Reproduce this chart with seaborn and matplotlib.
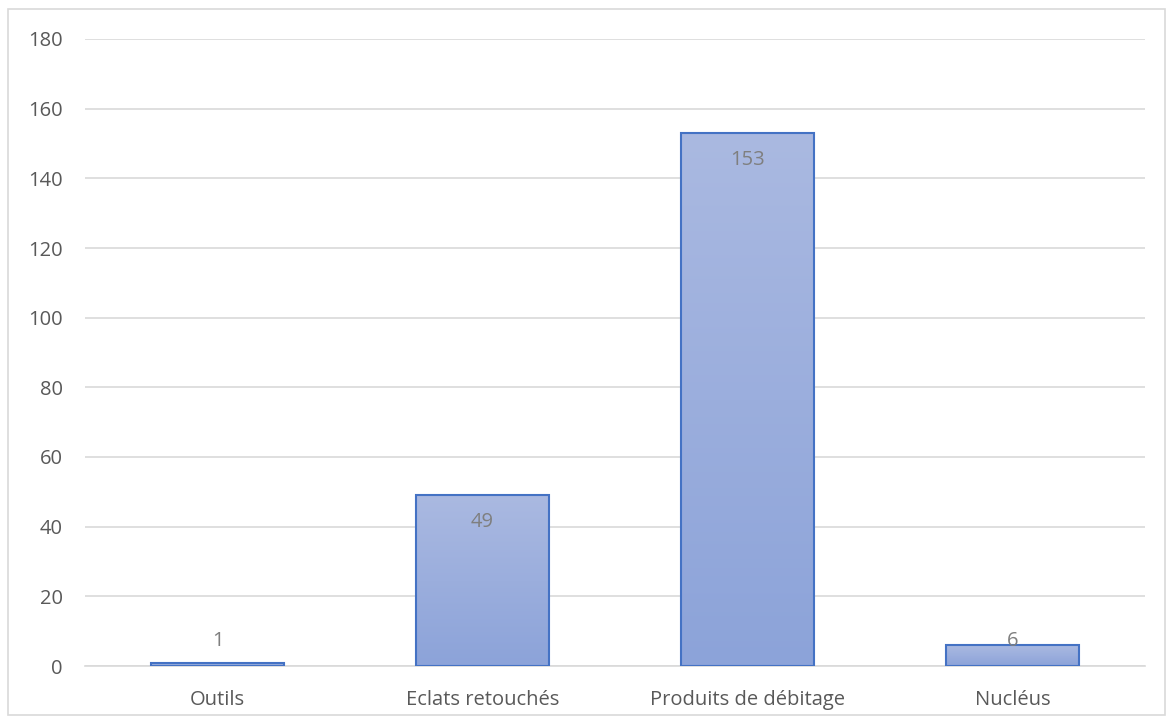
import matplotlib
matplotlib.use("Agg")
import matplotlib.pyplot as plt
import seaborn as sns
import numpy as np
import pandas as pd
from matplotlib.patches import Rectangle
from matplotlib.colors import LinearSegmentedColormap

categories = ["Outils", "Eclats retouchés", "Produits de débitage", "Nucléus"]
values = [1, 49, 153, 6]
yticks = [0, 20, 40, 60, 80, 100, 120, 140, 160, 180]

sns.set_theme(style="white")
plt.rcParams['font.family'] = ['Open Sans', 'DejaVu Sans']

fig = plt.figure(figsize=(11.73, 7.22), dpi=100)
ax = fig.add_axes([85/1173, 1 - 666/722, 1060/1173, 627/722])

df = pd.DataFrame({"cat": categories, "val": values})
sns.barplot(data=df, x="cat", y="val", ax=ax, width=0.5, color="#9AAEDD",
            edgecolor="#4472C4", linewidth=1.5, zorder=3)

cmap = LinearSegmentedColormap.from_list("g", ["#8CA3D9", "#AAB9E1"])
grad = np.linspace(0, 1, 256).reshape(-1, 1)
for p in ax.patches:
    x0, y0 = p.get_x(), p.get_y()
    w, h = p.get_width(), p.get_height()
    im = ax.imshow(grad, cmap=cmap, aspect="auto", origin="lower",
                   extent=[x0, x0 + w, y0, y0 + h], zorder=2.5)
    im.set_clip_path(p)
    p.set_facecolor("none")

ax.set_xlim(-0.5, 3.5)
ax.set_ylim(0, 180)
ax.set_yticks(yticks)
ax.yaxis.grid(True, color="#D9D9D9", linewidth=1.2, zorder=0)
ax.set_axisbelow(True)
for s in ["top", "right", "left"]:
    ax.spines[s].set_visible(False)
ax.spines["bottom"].set_color("#D9D9D9")
ax.spines["bottom"].set_linewidth(1.2)
ax.set_xlabel("")
ax.set_ylabel("")
ax.tick_params(axis="both", length=0, labelsize=14.5, colors="#595959")
ax.tick_params(axis="y", pad=16)
ax.tick_params(axis="x", pad=17)

for i, v in enumerate(values):
    ylab = max(v - 7.8, 7.2)
    ax.text(i, ylab, str(v), ha="center", va="center", fontsize=14.5,
            color="#7F7F7F", zorder=5)

fig.patches.append(Rectangle((8/1173, 1 - 715/722), 1157/1173, 706/722,
                             transform=fig.transFigure, fill=False,
                             edgecolor="#D9D9D9", linewidth=1.2))

fig.savefig("out.png", dpi=100)
